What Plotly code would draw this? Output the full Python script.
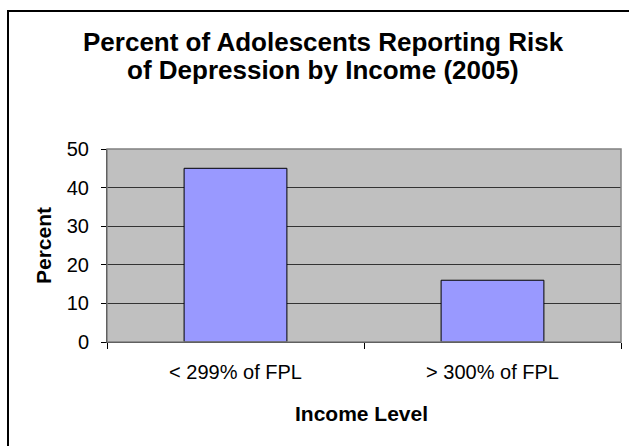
import plotly.graph_objects as go

categories = ["< 299% of FPL", "> 300% of FPL"]
percent = [45, 16]
y_ticks = [0, 10, 20, 30, 40, 50]
title_lines = ["Percent of Adolescents Reporting Risk", "of Depression by Income (2005)"]
x_title = "Income Level"
y_title = "Percent"

W, H = 629, 446
L, R, T, B = 107, 621, 149, 342
FONT = "Arial, Liberation Sans, Helvetica, sans-serif"


def px(x):
    return (x - L) / (R - L)


def py(y):
    return (B - y) / (B - T)


fig = go.Figure()
fig.add_trace(go.Bar(
    x=categories, y=percent,
    marker=dict(color="#9999FF", line=dict(color="#000000", width=1)),
    hoverinfo="skip",
))

annotations = []
for i, (line, yc) in enumerate(zip(title_lines, [42, 70])):
    annotations.append(dict(
        text=f"<b>{line}</b>", xref="paper", yref="paper",
        x=px(323), y=py(yc), xanchor="center", yanchor="middle",
        showarrow=False, font=dict(family=FONT, size=26, color="#000000"),
    ))
annotations.append(dict(
    text=f"<b>{y_title}</b>", xref="paper", yref="paper",
    x=px(43), y=py(246), xanchor="center", yanchor="middle", textangle=-90,
    showarrow=False, font=dict(family=FONT, size=21, color="#000000"),
))
annotations.append(dict(
    text=f"<b>{x_title}</b>", xref="paper", yref="paper",
    x=px(361), y=py(413), xanchor="center", yanchor="middle",
    showarrow=False, font=dict(family=FONT, size=21, color="#000000"),
))

shapes = [
    # plot-area border (grey)
    dict(type="rect", xref="paper", yref="paper", x0=0, x1=1, y0=0, y1=1,
         line=dict(color="#808080", width=1.5), layer="above"),
    # outer frame
    dict(type="rect", xref="paper", yref="paper",
         x0=px(8), x1=px(660), y0=py(11), y1=py(480),
         line=dict(color="#000000", width=2), layer="above"),
]

fig.update_layout(
    width=W, height=H,
    margin=dict(l=L, r=W - R, t=T, b=H - B, pad=0),
    paper_bgcolor="#FFFFFF", plot_bgcolor="#C0C0C0",
    showlegend=False, bargap=0.6,
    font=dict(family=FONT, size=20, color="#000000"),
    annotations=annotations, shapes=shapes,
)
fig.update_xaxes(
    type="category", showline=True, linecolor="#000000", linewidth=1,
    ticks="outside", ticklen=6, tickcolor="#000000", tickson="boundaries",
    showgrid=False, tickfont=dict(family=FONT, size=20, color="#000000"),
    ticklabelstandoff=12,
)
fig.update_yaxes(
    range=[0, 50], tickvals=y_ticks, showline=True, linecolor="#000000",
    linewidth=1, ticks="outside", ticklen=5, tickcolor="#000000",
    showgrid=True, gridcolor="#333333", gridwidth=1, zeroline=False,
    tickfont=dict(family=FONT, size=20, color="#000000"),
    ticklabelstandoff=8,
)

fig.write_html(
    "out.html",
    config={"displayModeBar": False},
    post_script="document.body.style.margin='0';document.body.style.padding='0';",
)
